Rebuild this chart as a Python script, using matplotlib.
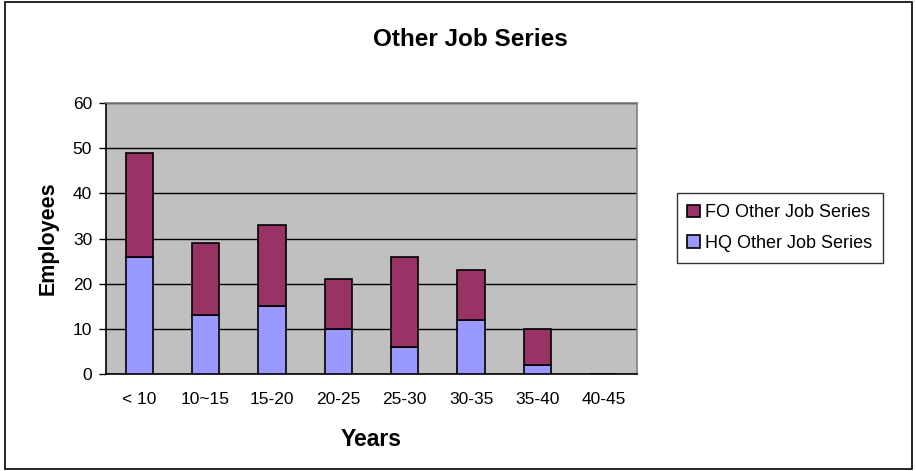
import numpy as np
import matplotlib
matplotlib.use("Agg")
from matplotlib import pyplot as plt
from matplotlib.patches import Rectangle

plt.rcParams["font.family"] = ["Liberation Sans", "DejaVu Sans"]

# %% data
years = ["< 10", "10~15", "15-20", "20-25", "25-30", "30-35", "35-40", "40-45"]
hq_other = [26, 13, 15, 10, 6, 12, 2, 0]
fo_other = [23, 16, 18, 11, 20, 11, 8, 0]

# %% plot
fig = plt.figure(figsize=(9.16, 4.71), dpi=100)
ax = fig.add_axes([106 / 916, 1 - 374 / 471, 531 / 916, 271 / 471])

x = np.arange(len(years))
width = 0.41
hq_bars = ax.bar(x, hq_other, width, color="#9999FF", edgecolor="black",
                 linewidth=1.2, label="HQ Other Job Series", zorder=3)
fo_bars = ax.bar(x, fo_other, width, bottom=hq_other, color="#993366",
                 edgecolor="black", linewidth=1.2, label="FO Other Job Series",
                 zorder=3)

ax.set_facecolor("#C0C0C0")
ax.set_xlim(-0.5, len(years) - 0.5)
ax.set_ylim(0, 60)
ax.set_yticks(range(0, 61, 10))
ax.set_xticks(x)
ax.set_xticklabels(years, fontsize=12.5)
ax.tick_params(axis="y", labelsize=12.5, length=5, width=1, direction="out", pad=5)
ax.tick_params(axis="x", length=0, pad=13)
ax.yaxis.grid(True, color="black", linewidth=1)
ax.set_axisbelow(True)

for side in ["top", "right"]:
    ax.spines[side].set_color("#808080")
    ax.spines[side].set_linewidth(1.2)
for side in ["left", "bottom"]:
    ax.spines[side].set_color("black")
    ax.spines[side].set_linewidth(1.2)

ax.set_ylabel("Employees", fontsize=15.5, fontweight="bold", labelpad=10)
fig.text(371 / 916, 1 - 440 / 471, "Years", fontsize=16.5, fontweight="bold",
         ha="center", va="center")
fig.text(470 / 916, 1 - 40 / 471, "Other Job Series", fontsize=17.5,
         fontweight="bold", ha="center", va="center")

leg = fig.legend(handles=[fo_bars, hq_bars],
                 loc="center", bbox_to_anchor=(780 / 916, 1 - 228 / 471),
                 fontsize=13, frameon=True, fancybox=False, borderpad=0.6,
                 labelspacing=0.75, handlelength=0.7, handleheight=0.7,
                 handletextpad=0.3, borderaxespad=0)
leg.get_frame().set_edgecolor("black")
leg.get_frame().set_linewidth(1)

# outer chart border
fig.patches.append(Rectangle((5 / 916, 2 / 471), 907 / 916, 467 / 471,
                             transform=fig.transFigure, fill=False,
                             edgecolor="black", linewidth=1.2))

fig.savefig("out.png", dpi=100)
